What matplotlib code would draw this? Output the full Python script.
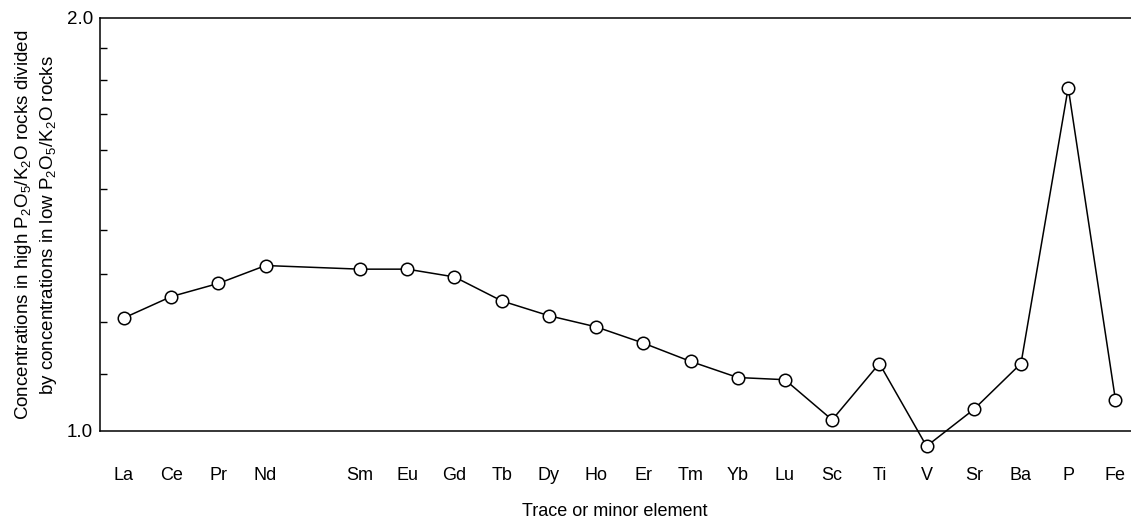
import matplotlib
matplotlib.use("Agg")
import matplotlib.pyplot as plt
from matplotlib.ticker import FixedLocator, NullFormatter, FixedFormatter
from matplotlib import font_manager

# ---- data ----
elements = ["La", "Ce", "Pr", "Nd", "Sm", "Eu", "Gd", "Tb", "Dy", "Ho", "Er",
            "Tm", "Yb", "Lu", "Sc", "Ti", "V", "Sr", "Ba", "P", "Fe"]
positions = [0, 1, 2, 3, 5, 6, 7, 8, 9, 10, 11, 12, 13, 14, 15, 16, 17, 18, 19, 20, 21]
ratios = [1.208, 1.252, 1.280, 1.319, 1.311, 1.311, 1.294, 1.243, 1.2125, 1.190,
          1.158, 1.123, 1.093, 1.089, 1.018, 1.119, 0.974, 1.036, 1.119, 1.778, 1.053]
ytick_vals = [1.0, 2.0]
ytick_labels = ["1.0", "2.0"]
minor_vals = [1.1, 1.2, 1.3, 1.4, 1.5, 1.6, 1.7, 1.8, 1.9]

# ---- font ----
avail = {f.name for f in font_manager.fontManager.ttflist}
fam = "Liberation Sans Narrow" if "Liberation Sans Narrow" in avail else "Liberation Sans"
plt.rcParams["font.family"] = [fam, "DejaVu Sans"]
plt.rcParams["mathtext.fontset"] = "custom"
plt.rcParams["mathtext.rm"] = fam
plt.rcParams["mathtext.it"] = fam
plt.rcParams["mathtext.bf"] = fam

W, H = 1131, 526
fig = plt.figure(figsize=(W / 100, H / 100), dpi=100)
ax = fig.add_axes([100 / W, 1 - 430.5 / H, (W - 100) / W, (430.5 - 17.5) / H])

ax.plot(positions, ratios, color="black", lw=1.1, marker="o", ms=9,
        mfc="white", mec="black", mew=1.1, clip_on=False, zorder=3)

ax.set_yscale("log")
ax.set_ylim(1.0, 2.0)
ax.set_xlim(-0.508, 21.33)

ax.yaxis.set_major_locator(FixedLocator(ytick_vals))
ax.yaxis.set_major_formatter(FixedFormatter(ytick_labels))
ax.yaxis.set_minor_locator(FixedLocator(minor_vals))
ax.yaxis.set_minor_formatter(NullFormatter())
ax.tick_params(axis="y", which="major", length=0, pad=5, labelsize=13.5)
ax.tick_params(axis="y", which="minor", length=5, width=1, direction="in")

ax.set_xticks(positions)
ax.set_xticklabels(elements)
ax.tick_params(axis="x", length=0, pad=26, labelsize=13)

for s in ["left", "top", "bottom"]:
    ax.spines[s].set_linewidth(1.1)
ax.spines["right"].set_visible(False)

fig.text(615 / W, 1 - 512 / H, "Trace or minor element", ha="center", va="center",
         fontsize=13)
fig.text(36 / W, 1 - 225 / H,
         "Concentrations in high P$_2$O$_5$/K$_2$O rocks divided\n"
         "by concentrations in low P$_2$O$_5$/K$_2$O rocks",
         rotation=90, ha="center", va="center", fontsize=13.5, linespacing=1.25,
         multialignment="center")

fig.savefig("out.png", dpi=100)
